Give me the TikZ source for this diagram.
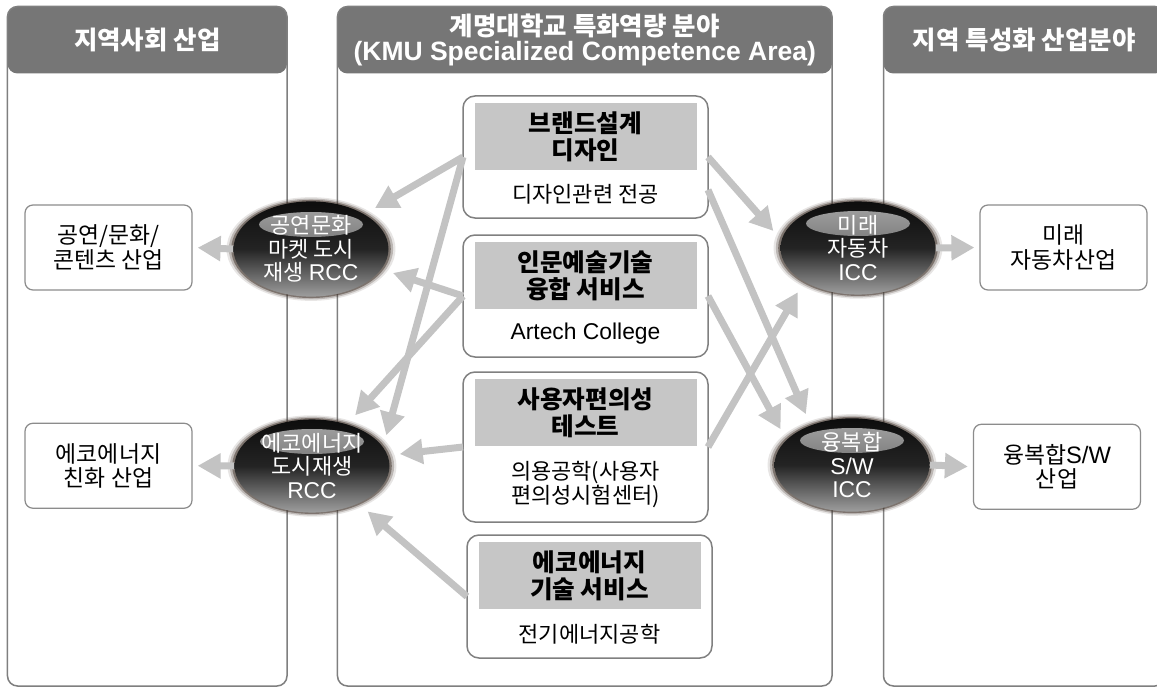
\documentclass[tikz,border=0pt]{standalone}
\usepackage{fontspec}
\setmainfont{Noto Sans CJK KR}
\newfontfamily\lat[Scale=1.04]{Liberation Sans}
\usetikzlibrary{positioning,shapes.geometric,arrows.meta,shadows,calc}

\definecolor{hdrgray}{HTML}{767676}
\definecolor{rimgray}{HTML}{7F7F7F}
\definecolor{capgray}{HTML}{C6C6C6}
\definecolor{flowgray}{HTML}{C3C3C3}
\definecolor{glowbrown}{HTML}{3E3028}

\begin{document}
\begin{tikzpicture}[
        x=0.2mm, y=-0.2mm,
        node distance=3mm,
        panel/.style={rectangle, draw=rimgray, line width=0.3mm, rounded corners=2mm, fill=white,
            minimum height=135.9mm, inner sep=0pt, outer sep=0pt,
            path picture={\fill[hdrgray] (path picture bounding box.north west) rectangle ([yshift=-13.4mm]path picture bounding box.north east);}},
        paneltitle/.style={minimum height=13.4mm, inner sep=0pt, outer sep=0pt, text=white, align=center,
            font=\fontsize{14.5}{14.5}\selectfont\bfseries},
        field/.style={rectangle, draw=black!45, line width=0.25mm, rounded corners=1.6mm, fill=white,
            minimum width=33.4mm, minimum height=17mm, align=center, font=\fontsize{13}{14}\selectfont},
        svc/.style={rectangle, draw=black!50, line width=0.3mm, rounded corners=2.4mm, fill=white,
            minimum width=49mm, minimum height=24.4mm, outer sep=0pt},
        svccap/.style={rectangle, fill=capgray, minimum width=44.4mm, minimum height=13.4mm, inner sep=0pt,
            align=center, font=\fontsize{14}{15}\selectfont\bfseries},
        svcsub/.style={align=center, inner sep=0pt, font=\fontsize{12.5}{14}\selectfont},
        hub/.style={ellipse, minimum width=31mm, minimum height=18.6mm, inner sep=0pt, draw=none,
            top color=black!95, bottom color=black!38, middle color=black!86,
            general shadow={fill=glowbrown, shadow scale=1.09, opacity=.12},
            general shadow={fill=glowbrown, shadow scale=1.06, opacity=.25},
            general shadow={fill=glowbrown, shadow scale=1.03, opacity=.5},
            path picture={\shade[top color=black!35, bottom color=black!72]
                ([yshift=4.9mm]path picture bounding box.center) ellipse [x radius=10.4mm, y radius=2.5mm];},
            align=center, text=white, font=\fontsize{12.5}{13.5}\selectfont},
        flow/.style={draw=flowgray, line width=1.4mm, -{Triangle[length=4.6mm, width=4.8mm]}, shorten >=2.4mm}
    ]
    \useasboundingbox (0,0) rectangle (1157,688);
    \clip (0,0) rectangle (1157,688);

    % three columns
    \node[panel, minimum width=55.9mm] (regional) at (147.25,346.25) {};
    \node[panel, minimum width=98.9mm] (kmu) at (584.75,346.25) {};
    \node[panel, minimum width=56.3mm] (special) at (1024.25,346.25) {};
    \node[paneltitle, minimum width=55.9mm, below=0pt of regional.north] (regionaltitle) {지역사회 산업};
    \node[paneltitle, minimum width=98.9mm, below=0pt of kmu.north] (kmutitle) {계명대학교 특화역량 분야\\{\lat(KMU Specialized Competence Area)}};
    \node[paneltitle, minimum width=56.3mm, below=0pt of special.north] (specialtitle) {지역 특성화 산업분야};

    % competence areas
    \node[svc] (brand) at (585.5,157) {};
    \node[svccap, below=1.4mm of brand.north] (brandcap) {브랜드설계\\디자인};
    \node[svcsub] (brandsub) at ($(brandcap.south)!.5!(brand.south)$) {디자인관련 전공};

    \node[svc, below=3.4mm of brand] (artech) {};
    \node[svccap, below=1.4mm of artech.north] (artechcap) {인문예술기술\\융합 서비스};
    \node[svcsub] (artechsub) at ($(artechcap.south)!.5!(artech.south)$) {\lat Artech College};

    \node[svc, below=3mm of artech, minimum height=30mm] (usab) {};
    \node[svccap, below=1.4mm of usab.north] (usabcap) {사용자편의성\\테스트};
    \node[svcsub] (usabsub) at ($(usabcap.south)!.5!(usab.south)$) {의용공학(사용자\\편의성시험센터)};

    \node[svc, below=2.6mm of usab, xshift=0.8mm, minimum height=24.6mm] (green) {};
    \node[svccap, below=1.4mm of green.north] (greencap) {에코에너지\\기술 서비스};
    \node[svcsub] (greensub) at ($(greencap.south)!.5!(green.south)$) {전기에너지공학};

    % industries
    \node[field] (culture) at (108.5,247.5) {공연/문화/\\콘텐츠 산업};
    \node[field, below=26.4mm of culture] (ecoind) {에코에너지\\친화 산업};
    \node[field] (carind) at (1063.5,247.5) {미래\\자동차산업};
    \node[field, below=26.6mm of carind, xshift=-1.3mm] (swind) {융복합{\lat S/W}\\산업};

    % centers
    \node[hub] (culthub) at (311,249) {공연문화\\마켓 도시\\재생 {\lat RCC}};
    \node[hub] (ecohub) at (312,466) {에코에너지\\도시재생\\{\lat RCC}};
    \node[hub] (carhub) at (858,248) {미래\\자동차\\{\lat ICC}};
    \node[hub] (swhub) at (852,465) {융복합\\{\lat S/W}\\{\lat ICC}};

    \draw[flow] (brand.west) -- (culthub.33);
    \draw[flow] (brand.west) -- (ecohub.15);
    \draw[flow] (artech.west) -- (culthub.344);
    \draw[flow] (artech.west) -- (ecohub.50);
    \draw[flow] (usab.west) -- (ecohub.8);
    \draw[flow] (green.west) -- (ecohub.321);
    \draw[flow] (brand.east) -- (carhub.174);
    \draw[flow] (brand.-15) -- (swhub.136);
    \draw[flow] (artech.east) -- (swhub.159);
    \draw[flow] (usab.east) -- (carhub.212);

    \draw[flow, shorten >=1mm] (culthub.west) -- (culture.east);
    \draw[flow, shorten >=1mm] (ecohub.west) -- (ecoind.east);
    \draw[flow, shorten >=1mm] (carhub.east) -- (carind.west);
    \draw[flow, shorten >=1mm] (swhub.east) -- (swind.west);
\end{tikzpicture}
\end{document}
